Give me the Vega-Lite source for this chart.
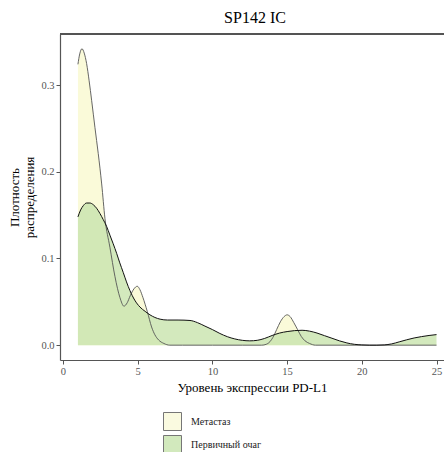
{
  "$schema": "https://vega.github.io/schema/vega-lite/v6.json",
  "width": 384,
  "height": 326,
  "autosize": {"type": "none"},
  "padding": {"left": 60, "top": 34, "right": 0, "bottom": 92},
  "background": "white",
  "title": {"text": "SP142 IC", "font": "Liberation Serif", "fontSize": 16, "fontWeight": "normal", "color": "black", "anchor": "middle", "offset": 7, "dx": 3},
  "config": {
    "view": {"stroke": null},
    "axis": {"grid": false, "domainColor": "#555555", "domainWidth": 1.2, "tickColor": "#555555", "tickSize": 4, "labelColor": "#555555", "labelFont": "Liberation Serif", "labelFontSize": 10.5, "labelPadding": 2, "titleFont": "Liberation Serif", "titleFontSize": 13, "titleFontWeight": "normal", "titleColor": "black"}
  },
  "datasets": {
    "d": [
      {"x": 1.0, "y": 0.324, "g": "Метастаз"},
      {"x": 1.12, "y": 0.336, "g": "Метастаз"},
      {"x": 1.27, "y": 0.342, "g": "Метастаз"},
      {"x": 1.42, "y": 0.337, "g": "Метастаз"},
      {"x": 1.58, "y": 0.325, "g": "Метастаз"},
      {"x": 1.75, "y": 0.305, "g": "Метастаз"},
      {"x": 1.92, "y": 0.282, "g": "Метастаз"},
      {"x": 2.14, "y": 0.251, "g": "Метастаз"},
      {"x": 2.36, "y": 0.221, "g": "Метастаз"},
      {"x": 2.59, "y": 0.186, "g": "Метастаз"},
      {"x": 2.81, "y": 0.146, "g": "Метастаз"},
      {"x": 3.14, "y": 0.113, "g": "Метастаз"},
      {"x": 3.48, "y": 0.079, "g": "Метастаз"},
      {"x": 3.81, "y": 0.055, "g": "Метастаз"},
      {"x": 4.08, "y": 0.045, "g": "Метастаз"},
      {"x": 4.3, "y": 0.049, "g": "Метастаз"},
      {"x": 4.5, "y": 0.057, "g": "Метастаз"},
      {"x": 4.75, "y": 0.065, "g": "Метастаз"},
      {"x": 4.97, "y": 0.068, "g": "Метастаз"},
      {"x": 5.15, "y": 0.064, "g": "Метастаз"},
      {"x": 5.35, "y": 0.055, "g": "Метастаз"},
      {"x": 5.64, "y": 0.039, "g": "Метастаз"},
      {"x": 5.93, "y": 0.021, "g": "Метастаз"},
      {"x": 6.15, "y": 0.012, "g": "Метастаз"},
      {"x": 6.4, "y": 0.006, "g": "Метастаз"},
      {"x": 6.75, "y": 0.002, "g": "Метастаз"},
      {"x": 7.15, "y": 0.0, "g": "Метастаз"},
      {"x": 8.0, "y": 0.0, "g": "Метастаз"},
      {"x": 10.0, "y": 0.0, "g": "Метастаз"},
      {"x": 12.0, "y": 0.0, "g": "Метастаз"},
      {"x": 13.3, "y": 0.0, "g": "Метастаз"},
      {"x": 13.6, "y": 0.001, "g": "Метастаз"},
      {"x": 13.85, "y": 0.004, "g": "Метастаз"},
      {"x": 14.05, "y": 0.009, "g": "Метастаз"},
      {"x": 14.3, "y": 0.018, "g": "Метастаз"},
      {"x": 14.55, "y": 0.027, "g": "Метастаз"},
      {"x": 14.8, "y": 0.033, "g": "Метастаз"},
      {"x": 15.0, "y": 0.035, "g": "Метастаз"},
      {"x": 15.2, "y": 0.033, "g": "Метастаз"},
      {"x": 15.45, "y": 0.026, "g": "Метастаз"},
      {"x": 15.7, "y": 0.018, "g": "Метастаз"},
      {"x": 15.95, "y": 0.01, "g": "Метастаз"},
      {"x": 16.2, "y": 0.005, "g": "Метастаз"},
      {"x": 16.5, "y": 0.002, "g": "Метастаз"},
      {"x": 16.9, "y": 0.0, "g": "Метастаз"},
      {"x": 20.0, "y": 0.0, "g": "Метастаз"},
      {"x": 25.0, "y": 0.0, "g": "Метастаз"},
      {"x": 1.0, "y": 0.148, "g": "Первичный очаг"},
      {"x": 1.18, "y": 0.156, "g": "Первичный очаг"},
      {"x": 1.36, "y": 0.161, "g": "Первичный очаг"},
      {"x": 1.58, "y": 0.164, "g": "Первичный очаг"},
      {"x": 1.8, "y": 0.164, "g": "Первичный очаг"},
      {"x": 2.03, "y": 0.162, "g": "Первичный очаг"},
      {"x": 2.25, "y": 0.158, "g": "Первичный очаг"},
      {"x": 2.47, "y": 0.152, "g": "Первичный очаг"},
      {"x": 2.69, "y": 0.145, "g": "Первичный очаг"},
      {"x": 2.92, "y": 0.137, "g": "Первичный очаг"},
      {"x": 3.14, "y": 0.127, "g": "Первичный очаг"},
      {"x": 3.36, "y": 0.117, "g": "Первичный очаг"},
      {"x": 3.59, "y": 0.106, "g": "Первичный очаг"},
      {"x": 3.8, "y": 0.095, "g": "Первичный очаг"},
      {"x": 4.03, "y": 0.084, "g": "Первичный очаг"},
      {"x": 4.25, "y": 0.073, "g": "Первичный очаг"},
      {"x": 4.48, "y": 0.063, "g": "Первичный очаг"},
      {"x": 4.8, "y": 0.052, "g": "Первичный очаг"},
      {"x": 5.15, "y": 0.044, "g": "Первичный очаг"},
      {"x": 5.5, "y": 0.039, "g": "Первичный очаг"},
      {"x": 5.82, "y": 0.035, "g": "Первичный очаг"},
      {"x": 6.15, "y": 0.032, "g": "Первичный очаг"},
      {"x": 6.5, "y": 0.03, "g": "Первичный очаг"},
      {"x": 7.0, "y": 0.029, "g": "Первичный очаг"},
      {"x": 7.7, "y": 0.029, "g": "Первичный очаг"},
      {"x": 8.5, "y": 0.0285, "g": "Первичный очаг"},
      {"x": 9.0, "y": 0.026, "g": "Первичный очаг"},
      {"x": 9.5, "y": 0.022, "g": "Первичный очаг"},
      {"x": 10.0, "y": 0.018, "g": "Первичный очаг"},
      {"x": 10.5, "y": 0.0135, "g": "Первичный очаг"},
      {"x": 11.0, "y": 0.0098, "g": "Первичный очаг"},
      {"x": 11.5, "y": 0.0072, "g": "Первичный очаг"},
      {"x": 12.0, "y": 0.0056, "g": "Первичный очаг"},
      {"x": 12.5, "y": 0.005, "g": "Первичный очаг"},
      {"x": 13.0, "y": 0.0056, "g": "Первичный очаг"},
      {"x": 13.5, "y": 0.0078, "g": "Первичный очаг"},
      {"x": 14.0, "y": 0.0112, "g": "Первичный очаг"},
      {"x": 14.5, "y": 0.014, "g": "Первичный очаг"},
      {"x": 15.0, "y": 0.0157, "g": "Первичный очаг"},
      {"x": 15.5, "y": 0.0168, "g": "Первичный очаг"},
      {"x": 16.0, "y": 0.0172, "g": "Первичный очаг"},
      {"x": 16.5, "y": 0.0162, "g": "Первичный очаг"},
      {"x": 17.0, "y": 0.014, "g": "Первичный очаг"},
      {"x": 17.5, "y": 0.011, "g": "Первичный очаг"},
      {"x": 18.0, "y": 0.008, "g": "Первичный очаг"},
      {"x": 18.5, "y": 0.005, "g": "Первичный очаг"},
      {"x": 19.0, "y": 0.0026, "g": "Первичный очаг"},
      {"x": 19.5, "y": 0.001, "g": "Первичный очаг"},
      {"x": 20.0, "y": 0.0003, "g": "Первичный очаг"},
      {"x": 20.5, "y": 0.0, "g": "Первичный очаг"},
      {"x": 21.0, "y": 0.0, "g": "Первичный очаг"},
      {"x": 21.5, "y": 0.0003, "g": "Первичный очаг"},
      {"x": 22.0, "y": 0.0015, "g": "Первичный очаг"},
      {"x": 22.5, "y": 0.0038, "g": "Первичный очаг"},
      {"x": 23.0, "y": 0.0062, "g": "Первичный очаг"},
      {"x": 23.5, "y": 0.0083, "g": "Первичный очаг"},
      {"x": 24.0, "y": 0.0099, "g": "Первичный очаг"},
      {"x": 24.5, "y": 0.0112, "g": "Первичный очаг"},
      {"x": 25.0, "y": 0.0122, "g": "Первичный очаг"}
    ]
  },
  "data": {"name": "d"},
  "layer": [
    {
      "transform": [{"filter": "datum.g === 'Метастаз'"}],
      "mark": {"type": "area", "interpolate": "monotone"},
      "encoding": {
        "x": {"field": "x", "type": "quantitative", "scale": {"domain": [-0.2, 25.5], "nice": false, "zero": false}, "axis": {"values": [0, 5, 10, 15, 20, 25], "title": "Уровень экспрессии PD-L1", "titlePadding": 5}},
        "y": {"field": "y", "type": "quantitative", "scale": {"domain": [-0.0171, 0.359], "nice": false}, "axis": {"values": [0, 0.1, 0.2, 0.3], "format": ".1f", "title": ["Плотность", "распределения"], "titlePadding": 4, "titleLineHeight": 15}},
        "color": {"field": "g", "type": "nominal", "scale": {"domain": ["Метастаз", "Первичный очаг"], "range": ["#FAFAD9", "#C8E4AD"]}, "legend": {"title": null, "orient": "none", "legendX": 103, "legendY": 378, "padding": 0, "symbolType": "square", "symbolSize": 324, "symbolStrokeColor": "#555555", "symbolStrokeWidth": 1, "symbolOpacity": 1, "labelFont": "Liberation Serif", "labelFontSize": 10, "labelColor": "#222222", "labelOffset": 9, "rowPadding": 0}}
      }
    },
    {
      "transform": [{"filter": "datum.g === 'Первичный очаг'"}],
      "mark": {"type": "area", "interpolate": "monotone", "opacity": 0.8},
      "encoding": {
        "x": {"field": "x", "type": "quantitative"},
        "y": {"field": "y", "type": "quantitative"},
        "color": {"field": "g", "type": "nominal"}
      }
    },
    {
      "transform": [{"filter": "datum.g === 'Метастаз'"}],
      "mark": {"type": "line", "interpolate": "monotone", "stroke": "#555555", "strokeWidth": 0.9},
      "encoding": {
        "x": {"field": "x", "type": "quantitative"},
        "y": {"field": "y", "type": "quantitative"}
      }
    },
    {
      "transform": [{"filter": "datum.g === 'Первичный очаг'"}],
      "mark": {"type": "line", "interpolate": "monotone", "stroke": "#111111", "strokeWidth": 1},
      "encoding": {
        "x": {"field": "x", "type": "quantitative"},
        "y": {"field": "y", "type": "quantitative"}
      }
    },
    {
      "mark": {"type": "rule", "stroke": "#555555", "strokeWidth": 1.2},
      "encoding": {
        "y": {"datum": 0.359}
      }
    }
  ]
}
